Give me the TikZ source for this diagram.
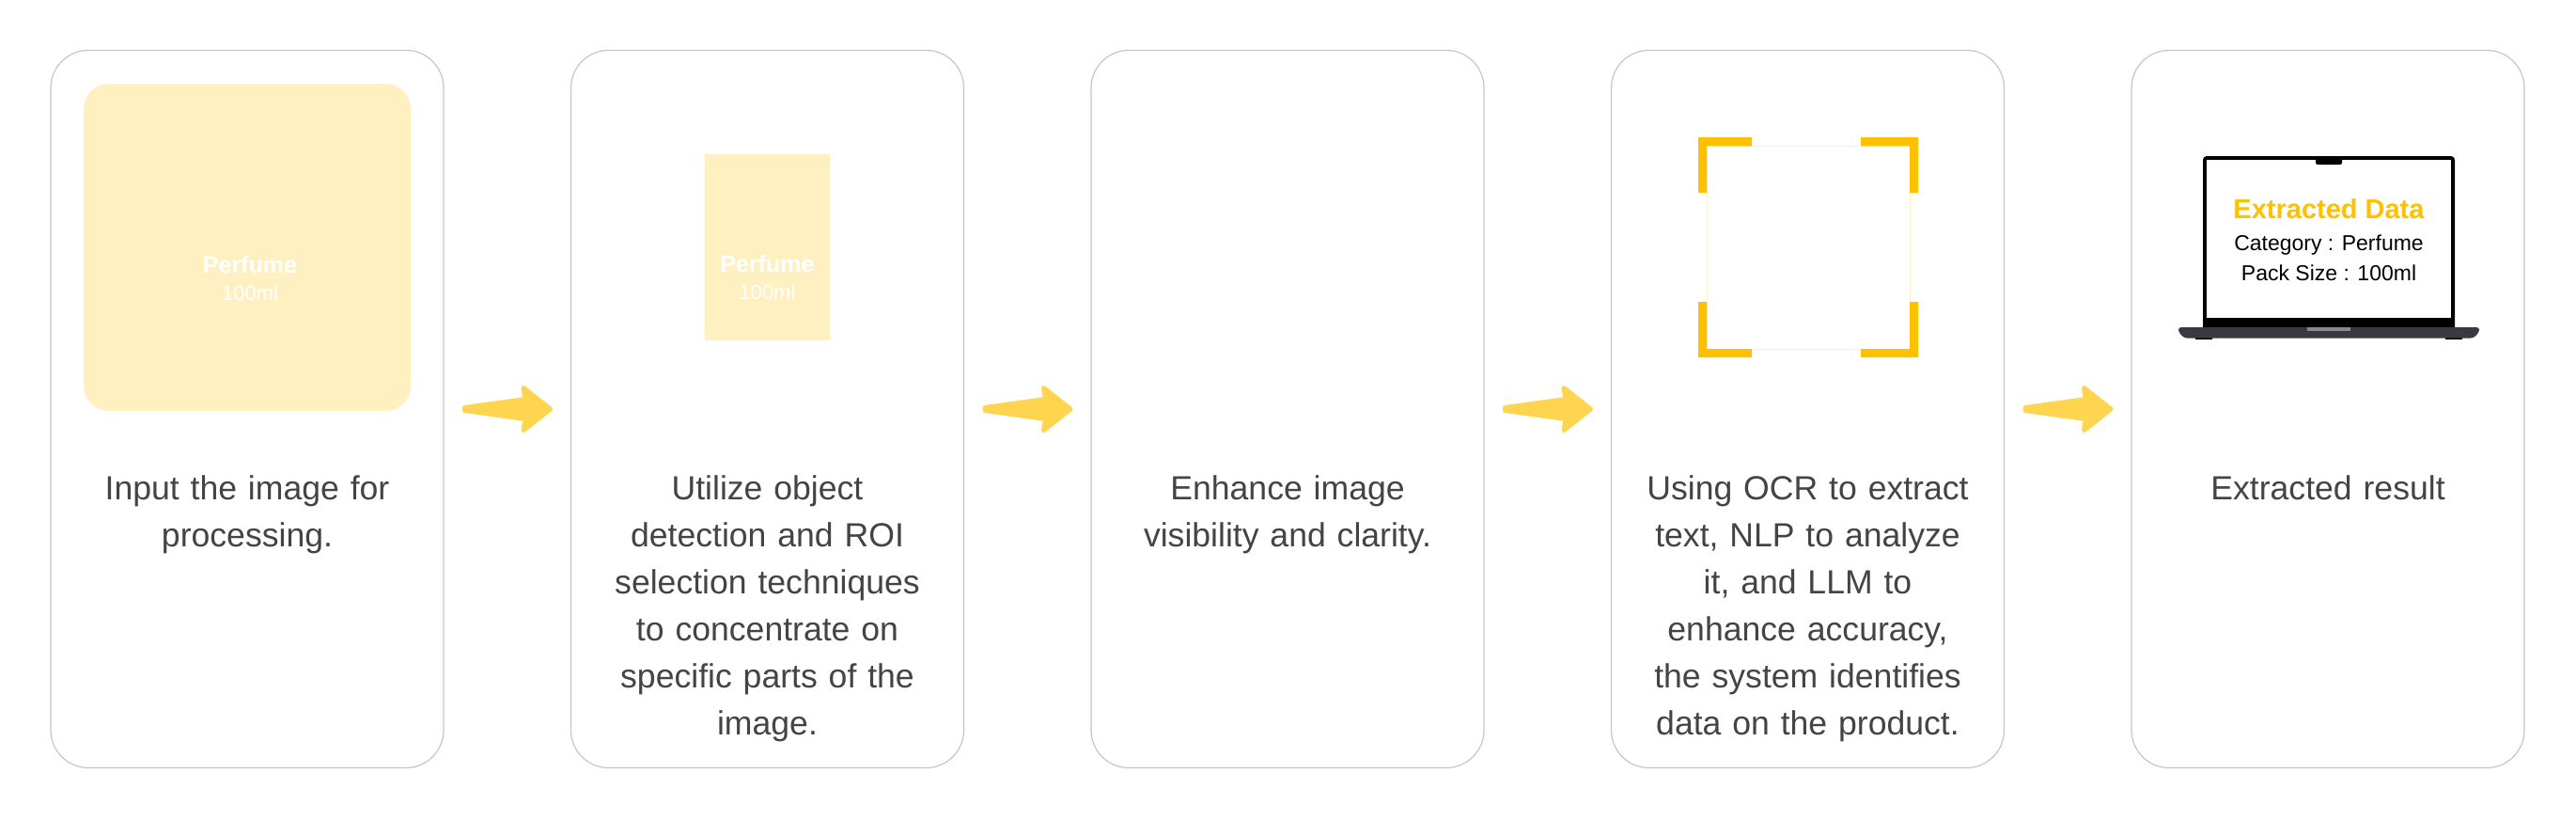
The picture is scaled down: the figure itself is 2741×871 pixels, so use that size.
\documentclass[tikz,border=0pt]{standalone}
\usepackage{fontspec}
\setmainfont{Liberation Sans}
\usetikzlibrary{calc}
\definecolor{cardline}{HTML}{C6C6C6}
\definecolor{paleyellow}{HTML}{FFF0C2}
\definecolor{amber}{HTML}{FFC000}
\definecolor{arrowyellow}{HTML}{FFD54F}
\definecolor{bodygray}{HTML}{444444}
\definecolor{basegray}{HTML}{3A3840}
\definecolor{padgray}{HTML}{8A8890}
\newcommand{\bodyfont}{\fontsize{35.6}{50}\selectfont}
\tikzset{
  x=1pt,y=-1pt,
  card/.style={draw=cardline,line width=1.2pt,fill=white,rounded corners=40pt,minimum width=418pt,minimum height=763pt,inner sep=0pt,outer sep=0pt,anchor=north west},
  bodytext/.style={anchor=north,align=center,text=bodygray,font=\bodyfont,inner sep=0pt,text width=400pt},
  prodname/.style={text=white,font=\fontsize{25}{25}\selectfont\bfseries,inner sep=0pt,anchor=center},
  prodsize/.style={text=white,font=\fontsize{22}{22}\selectfont,inner sep=0pt,anchor=center},
  palebox/.style={fill=paleyellow,draw=none,inner sep=0pt,outer sep=0pt,anchor=north west},
  bracket/.style={fill=amber,draw=none},
}
\newcommand{\flowarrow}[2]{%
  \fill[arrowyellow,draw=arrowyellow,line width=5pt,line join=round]
    ($(#1.east)+(22.5,-1.5)$) -- ($(#1.east)+(87,-10.5)$) -- ($(#1.east)+(85,-22.5)$)
    -- ($(#1.east)+(113.5,0)$) -- ($(#1.east)+(85,22.5)$) -- ($(#1.east)+(87,10.5)$)
    -- ($(#1.east)+(22.5,1.5)$) -- cycle;
}
\begin{document}
\begin{tikzpicture}
\useasboundingbox (0,0) rectangle (2741,871);
\fill[white] (0,0) rectangle (2741,871);
\node[card] (c1) at (54,53.5) {};
\node[card] (c2) at (607.5,53.5) {};
\node[card] (c3) at (1161,53.5) {};
\node[card] (c4) at (1714.5,53.5) {};
\node[card] (c5) at (2268,53.5) {};
% arrows
\flowarrow{c1}{c2}
\flowarrow{c2}{c3}
\flowarrow{c3}{c4}
\flowarrow{c4}{c5}
% card 1 image
\node[palebox,rounded corners=27pt,minimum width=348pt,minimum height=348pt] (img1) at (89,89) {};
\node[prodname] (n1) at (266,282) {Perfume};
\node[prodsize] (s1) at (266,312) {100ml};
% card 2 image
\node[palebox,minimum width=133pt,minimum height=198pt] (img2) at (750,164) {};
\node[prodname] (n2) at (816.5,281) {Perfume};
\node[prodsize] (s2) at (816.5,311) {100ml};
% card 4 brackets
\draw[paleyellow,line width=1pt] (1816,155) rectangle (2032,371);
\fill[bracket] (1807,146) -| (1864,155) -| (1816,205) -| cycle;
\fill[bracket] (2041,146) -| (1980,155) -| (2032,205) -| cycle;
\fill[bracket] (1807,380) -| (1864,371) -| (1816,321) -| cycle;
\fill[bracket] (2041,380) -| (1980,371) -| (2032,321) -| cycle;
% laptop
\fill[black,rounded corners=4pt] (2344,166) rectangle (2612,352);
\fill[white] (2348,169.5) rectangle (2608,338);
\fill[black,rounded corners=2pt] (2464,168) rectangle (2492,175);
\fill[black] (2336,358) rectangle (2354,360.5);
\fill[black] (2602,358) rectangle (2620,360.5);
\fill[basegray,rounded corners=3pt] (2318,348) -- (2638,348) -- (2638,353) -- (2632,359.5) -- (2324,359.5) -- (2318,353) -- cycle;
\fill[padgray] (2455,348) rectangle (2501,352);
\node[inner sep=0pt,text=amber,font=\fontsize{29}{29}\selectfont\bfseries] (ed) at (2478,222.5) {Extracted Data};
\node[inner sep=0pt,text=black,font=\fontsize{23}{23}\selectfont] (cat) at (2478,261) {Category : Perfume};
\node[inner sep=0pt,text=black,font=\fontsize{23}{23}\selectfont] (pack) at (2478,290.5) {Pack Size : 100ml};
% body texts
\node[bodytext] (b1) at ($(c1.north)+(0,452)$) {Input the image for\\processing.};
\node[bodytext] (b2) at ($(c2.north)+(0,452)$) {Utilize object\\detection and ROI\\selection techniques\\to concentrate on\\specific parts of the\\image.};
\node[bodytext] (b3) at ($(c3.north)+(0,452)$) {Enhance image\\visibility and clarity.};
\node[bodytext] (b4) at ($(c4.north)+(0,452)$) {Using OCR to extract\\text, NLP to analyze\\it, and LLM to\\enhance accuracy,\\the system identifies\\data on the product.};
\node[bodytext] (b5) at ($(c5.north)+(0,452)$) {Extracted result};
\end{tikzpicture}
\end{document}
